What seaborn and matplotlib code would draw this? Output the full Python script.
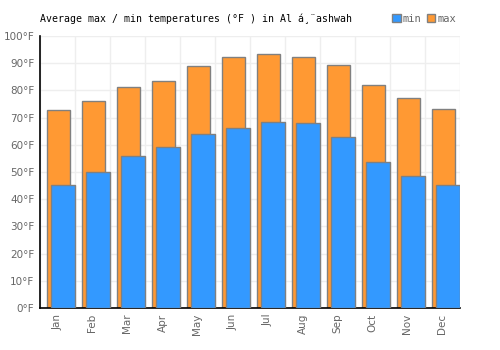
import matplotlib
matplotlib.use("Agg")
import matplotlib.pyplot as plt
import seaborn as sns
import pandas as pd
import numpy as np
from matplotlib.patches import Patch

months = ["Jan", "Feb", "Mar", "Apr", "May", "Jun", "Jul", "Aug", "Sep", "Oct", "Nov", "Dec"]
max_temps = [72.7, 76.0, 81.1, 83.3, 88.9, 92.2, 93.3, 92.2, 89.2, 81.9, 77.1, 73.0]
min_temps = [45.1, 49.9, 55.8, 59.1, 63.9, 66.1, 68.3, 67.9, 62.8, 53.6, 48.4, 45.2]
yticks = [0, 10, 20, 30, 40, 50, 60, 70, 80, 90, 100]
title = "Average max / min temperatures (°F ) in Al á¸¨ashwah"

sns.set_style("white")
plt.rcParams['font.family'] = ['DejaVu Sans']

df = pd.DataFrame({"month": months, "max": max_temps, "min": min_temps})

fig = plt.figure(figsize=(5, 3.5), dpi=100)
ax = fig.add_axes([0.08, 0.12, 0.84, 0.777])

orange = "#ff9933"
blue = "#3399ff"
edge = "#808080"

sns.barplot(data=df, x="month", y="max", color=orange, width=0.66,
            edgecolor=edge, linewidth=1.0, saturation=1, ax=ax, zorder=2)
n_max = len(ax.patches)
for p in ax.patches[:n_max]:
    p.set_x(p.get_x() + 0.02)
sns.barplot(data=df, x="month", y="min", color=blue, width=0.69,
            edgecolor=edge, linewidth=1.0, saturation=1, ax=ax, zorder=3)
for p in ax.patches[n_max:]:
    p.set_x(p.get_x() + 0.155)

ax.set_xlim(-0.5, 11.5)
ax.set_ylim(0, 100)
ax.set_yticks(yticks)
ax.set_yticklabels([f"{v}°F" for v in yticks], fontsize=7.5, color="#666666")
ax.set_xticks(range(12))
ax.set_xticklabels(months, rotation=90, fontsize=7.5, color="#666666")
ax.set_xticks(np.arange(-0.5, 12, 1), minor=True)
ax.grid(axis="y", color="#eeeeee", linewidth=1, zorder=0)
ax.grid(axis="x", which="minor", color="#eeeeee", linewidth=1, zorder=0)
ax.grid(axis="x", which="major", visible=False)
ax.set_axisbelow(True)
ax.tick_params(axis="both", which="both", length=0, pad=4)
ax.set_xlabel("")
ax.set_ylabel("")
for s in ["top", "right"]:
    ax.spines[s].set_visible(False)
for s in ["left", "bottom"]:
    ax.spines[s].set_color("black")
    ax.spines[s].set_linewidth(1.2)

fig.text(0.08, 0.947, title, fontsize=7.15, family="DejaVu Sans Mono",
         color="black", va="center", ha="left")

handles = [Patch(facecolor=blue, edgecolor=edge, label="min"),
           Patch(facecolor=orange, edgecolor=edge, label="max")]
leg = fig.legend(handles=handles, loc="center left", bbox_to_anchor=(0.774, 0.947),
                 ncol=2, frameon=False, handlelength=0.8, handleheight=0.8,
                 handletextpad=0.2, columnspacing=0.5, borderpad=0,
                 prop={"family": "DejaVu Sans Mono", "size": 7.5})
for t in leg.get_texts():
    t.set_color("#666666")

fig.savefig("out.png", dpi=100)
